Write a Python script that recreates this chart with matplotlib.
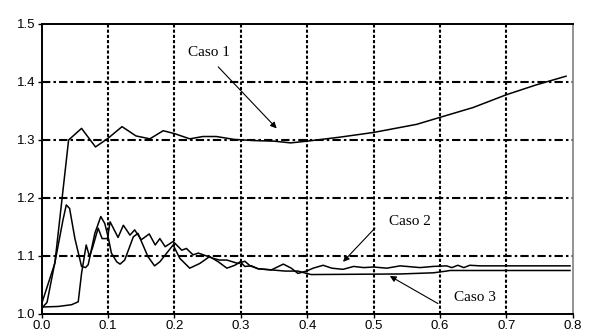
import numpy as np
import matplotlib.pyplot as plt

# datos
x1 = [0.0, 0.008, 0.020, 0.0405, 0.060, 0.081, 0.100, 0.121, 0.142, 0.163, 0.183,
      0.200, 0.223, 0.243, 0.263, 0.290, 0.320, 0.350, 0.375, 0.400, 0.450, 0.500,
      0.565, 0.600, 0.650, 0.700, 0.745, 0.790]
y1 = [1.010, 1.020, 1.090, 1.300, 1.320, 1.288, 1.303, 1.323, 1.307, 1.302, 1.316,
      1.311, 1.302, 1.306, 1.306, 1.301, 1.299, 1.298, 1.295, 1.298, 1.305, 1.313,
      1.327, 1.339, 1.356, 1.378, 1.395, 1.410]

x2 = [0.0, 0.025, 0.045, 0.055, 0.060, 0.067, 0.072, 0.077, 0.085, 0.091, 0.099,
      0.103, 0.115, 0.123, 0.133, 0.140, 0.150, 0.162, 0.171, 0.178, 0.186, 0.198,
      0.211, 0.218, 0.228, 0.236, 0.246, 0.258, 0.268, 0.279, 0.296, 0.306, 0.314,
      0.326, 0.346, 0.364, 0.376, 0.386, 0.399, 0.409, 0.424, 0.437, 0.454, 0.470,
      0.485, 0.500, 0.520, 0.540, 0.570, 0.590, 0.610, 0.618, 0.627, 0.636, 0.645,
      0.660, 0.796]
y2 = [1.012, 1.013, 1.016, 1.021, 1.070, 1.119, 1.099, 1.116, 1.148, 1.130, 1.130,
      1.159, 1.132, 1.153, 1.136, 1.145, 1.128, 1.138, 1.119, 1.130, 1.116, 1.125,
      1.110, 1.113, 1.102, 1.105, 1.101, 1.096, 1.093, 1.093, 1.087, 1.091, 1.083,
      1.078, 1.076, 1.086, 1.079, 1.070, 1.074, 1.079, 1.084, 1.079, 1.077, 1.082,
      1.080, 1.081, 1.079, 1.083, 1.080, 1.082, 1.083, 1.080, 1.084, 1.080, 1.084,
      1.083, 1.083]

x3 = [0.0, 0.0196, 0.032, 0.037, 0.042, 0.050, 0.060, 0.066, 0.070, 0.080, 0.089,
      0.095, 0.100, 0.105, 0.113, 0.118, 0.125, 0.138, 0.145, 0.160, 0.170, 0.178,
      0.198, 0.208, 0.223, 0.238, 0.253, 0.266, 0.279, 0.291, 0.299, 0.306, 0.316,
      0.326, 0.346, 0.367, 0.386, 0.399, 0.406, 0.540, 0.590, 0.610, 0.615, 0.796]
y3 = [1.018, 1.087, 1.162, 1.188, 1.182, 1.130, 1.082, 1.080, 1.085, 1.139, 1.168,
      1.156, 1.133, 1.105, 1.090, 1.086, 1.093, 1.133, 1.139, 1.099, 1.083, 1.090,
      1.119, 1.096, 1.079, 1.087, 1.099, 1.090, 1.079, 1.084, 1.090, 1.082, 1.083,
      1.078, 1.076, 1.074, 1.074, 1.070, 1.068, 1.069, 1.071, 1.074, 1.075, 1.075]

xticks = [0.0, 0.1, 0.2, 0.3, 0.4, 0.5, 0.6, 0.7, 0.8]
yticks = [1.0, 1.1, 1.2, 1.3, 1.4, 1.5]

fig = plt.figure(figsize=(5.91, 3.36), dpi=100)
ax = fig.add_axes([0.0706, 0.0655, 0.8984, 0.8631])

ax.plot(x1, y1, color='k', lw=1.1)
ax.plot(x2, y2, color='k', lw=1.1)
ax.plot(x3, y3, color='k', lw=1.1)

ax.set_xlim(0, 0.8)
ax.set_ylim(1.0, 1.5)
ax.set_xticks(xticks)
ax.set_yticks(yticks)
ax.set_xticklabels(['%.1f' % v for v in xticks], family='Liberation Sans', fontsize=9.5)
ax.set_yticklabels(['%.1f' % v for v in yticks], family='Liberation Sans', fontsize=9.5)
ax.tick_params(direction='out', length=3, width=1, pad=1.5)

# rejilla
for v in yticks[1:-1]:
    ax.axhline(v, color='k', lw=1.5, ls=(0, (4, 1.5, 1.2, 1.5)), zorder=0)
for v in xticks[1:-1]:
    ax.axvline(v, color='k', lw=1.5, ls=(0, (1.5, 1)), zorder=0)

for s in ['left', 'bottom', 'top']:
    ax.spines[s].set_linewidth(1.4)
    ax.spines[s].set_color('k')
ax.spines['right'].set_color('#808080')
ax.spines['right'].set_linewidth(1.2)

arrow = dict(arrowstyle='-|>', color='k', lw=0.8, mutation_scale=9, shrinkA=0, shrinkB=0)
tf = dict(family='Liberation Serif', fontsize=11, ha='center', va='center')
ax.annotate('', xy=(0.354, 1.320), xytext=(0.266, 1.426), arrowprops=arrow)
ax.text(0.252, 1.45, 'Caso 1', **tf)
ax.annotate('', xy=(0.454, 1.090), xytext=(0.502, 1.148), arrowprops=arrow)
ax.text(0.5547, 1.160, 'Caso 2', **tf)
ax.annotate('', xy=(0.5245, 1.0655), xytext=(0.597, 1.018), arrowprops=arrow)
ax.text(0.6526, 1.0284, 'Caso 3', **tf)

fig.savefig('out.png', dpi=100)
